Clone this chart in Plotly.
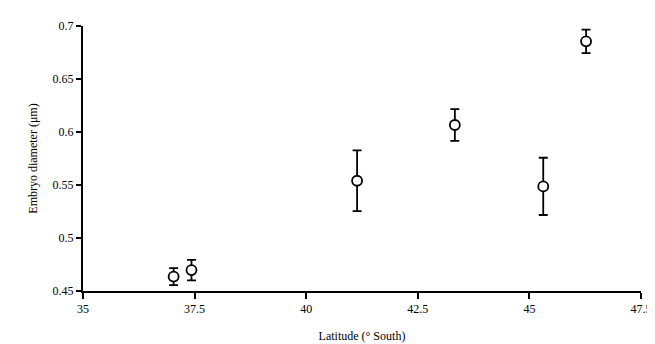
import plotly.graph_objects as go

latitude = [37.03, 37.43, 41.14, 43.33, 45.31, 46.27]
diameter = [0.4636, 0.4697, 0.554, 0.6066, 0.5487, 0.6855]
err = [0.008, 0.0097, 0.0286, 0.015, 0.027, 0.011]

x_ticks = [35, 37.5, 40, 42.5, 45, 47.5]
x_labels = ["35", "37.5", "40", "42.5", "45", "47.5"]
y_ticks = [0.45, 0.5, 0.55, 0.6, 0.65, 0.7]
y_labels = ["0.45", "0.5", "0.55", "0.6", "0.65", "0.7"]

fig = go.Figure()
fig.add_trace(go.Scatter(
    x=latitude, y=diameter, mode="markers",
    error_y=dict(type="data", array=err, visible=True, color="black",
                 thickness=1.8, width=4.5),
    marker=dict(symbol="circle", size=10, color="white",
                line=dict(color="black", width=1.8)),
    showlegend=False,
))

font = dict(family="Liberation Serif, Times New Roman, serif", size=12, color="black")

fig.update_layout(
    width=655, height=344,
    margin=dict(l=75, r=11, t=16, b=57),
    paper_bgcolor="white", plot_bgcolor="white",
    font=font,
    xaxis=dict(range=[35, 47.5], tickvals=x_ticks, ticktext=x_labels,
               showgrid=False, zeroline=False, showline=True, linecolor="black",
               linewidth=2, ticks="outside", ticklen=6, tickwidth=1.5,
               tickcolor="black",
               title=dict(text="Latitude (° South)", standoff=16, font=font)),
    yaxis=dict(range=[0.45, 0.7], tickvals=y_ticks, ticktext=y_labels,
               showgrid=False, zeroline=False, showline=True, linecolor="black",
               linewidth=2, ticks="outside", ticklen=5, tickwidth=1.5,
               tickcolor="black",
               title=dict(text="Embryo diameter (μm)", standoff=12, font=font)),
)

fig.write_html("out.html")
